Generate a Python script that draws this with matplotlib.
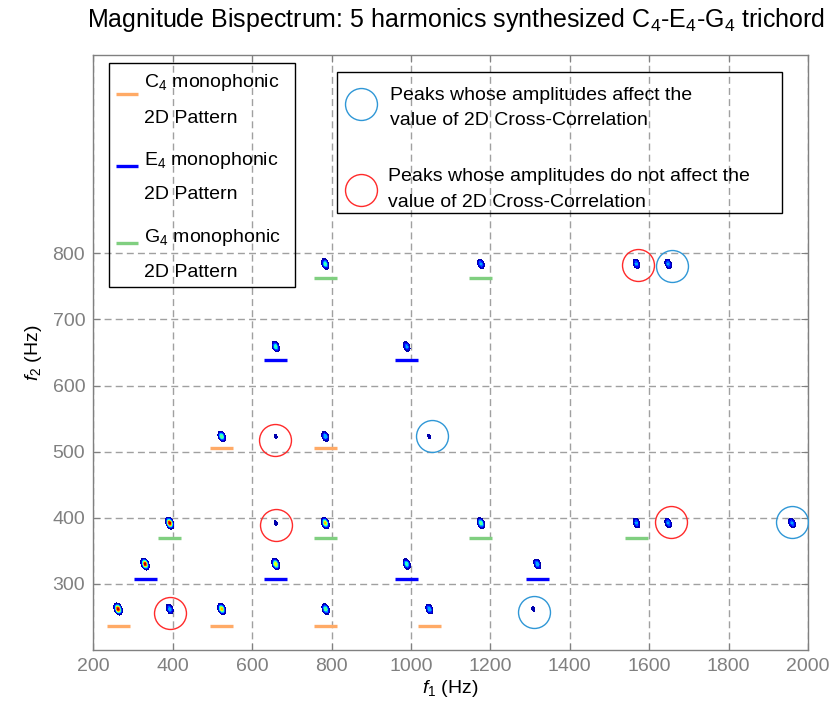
import numpy as np
import matplotlib
matplotlib.use('Agg')
import matplotlib.pyplot as plt
from matplotlib.patches import Rectangle

plt.rcParams['font.family'] = ['Liberation Sans', 'DejaVu Sans']
plt.rcParams['mathtext.fontset'] = 'custom'
plt.rcParams['mathtext.rm'] = 'Liberation Sans'
plt.rcParams['mathtext.it'] = 'Liberation Sans:italic'

# bispectrum peaks: f1, f2 (Hz) and relative magnitude
peak_f1 = [262, 392, 523, 785, 1046, 1308,
           330, 659, 989, 1318,
           392, 659, 784, 1176, 1568, 1648, 1960,
           523, 659, 784, 1046,
           659, 989,
           784, 1176, 1568, 1648]
peak_f2 = [262] * 6 + [330] * 4 + [392] * 7 + [523] * 4 + [659] * 2 + [784] * 4
peak_amp = [1.0, 0.32, 0.72, 0.5, 0.35, 0.06,
            0.95, 0.68, 0.45, 0.35,
            1.0, 0.06, 0.7, 0.5, 0.3, 0.3, 0.3,
            0.5, 0.06, 0.35, 0.06,
            0.45, 0.3,
            0.45, 0.3, 0.3, 0.3]

# monophonic 2D patterns: bar centre (f1) and level (f2)
c4_f1 = [262, 523, 785, 1046, 523, 785]
c4_f2 = [236, 236, 236, 236, 505, 505]
e4_f1 = [330, 659, 989, 1318, 659, 989]
e4_f2 = [308, 308, 308, 308, 639, 639]
g4_f1 = [392, 784, 1176, 1568, 784, 1176]
g4_f2 = [370, 370, 370, 370, 762, 762]

# circled peaks
blue_f1 = [1310, 1054, 1658, 1960]
blue_f2 = [257, 523, 781, 393]
red_f1 = [394, 660, 657, 1572, 1656]
red_f2 = [256, 389, 518, 783, 394]

c_orange = '#ffaa66'
c_blue = '#0000ff'
c_green = '#80cf80'
c_circ_blue = '#2f97d6'
c_circ_red = '#ff2a2a'
gray = '#808080'

fig = plt.figure(figsize=(8.37, 7.13), dpi=100)
ax = fig.add_axes([0.1117, 0.0884, 0.8536, 0.8345])

# peaks as filled contours
levels = np.linspace(0.04, 1.0, 13)
sx, sy, rho = 4.2, 3.6, -0.35
for f1, f2, a in zip(peak_f1, peak_f2, peak_amp):
    X, Y = np.meshgrid(np.linspace(f1 - 18, f1 + 18, 181),
                       np.linspace(f2 - 18, f2 + 18, 181))
    u = (X - f1) / sx
    v = (Y - f2) / sy
    Z = a * np.exp(-(u * u - 2 * rho * u * v + v * v) / (2 * (1 - rho ** 2)))
    ax.contourf(X, Y, Z, levels=levels, cmap='jet', vmin=0.04, vmax=1.0, zorder=2)

half = 29
for f1s, f2s, col in [(c4_f1, c4_f2, c_orange), (e4_f1, e4_f2, c_blue), (g4_f1, g4_f2, c_green)]:
    f1s = np.array(f1s)
    ax.hlines(f2s, f1s - half, f1s + half, colors=col, lw=2.4, zorder=3)

ax.plot(blue_f1, blue_f2, 'o', ms=23, mfc='none', mec=c_circ_blue, mew=1.0, ls='none', zorder=4)
ax.plot(red_f1, red_f2, 'o', ms=23, mfc='none', mec=c_circ_red, mew=1.0, ls='none', zorder=4)

ax.set_xlim(200, 2000)
ax.set_ylim(200, 1100)
ax.set_xticks(np.arange(200, 2001, 200))
ax.set_yticks(np.arange(300, 801, 100))
ax.set_axisbelow(True)
ax.grid(True, color='#a0a0a0', lw=1.0, ls=(0, (5, 3)))
ax.tick_params(direction='in', length=5, color=gray, labelcolor=gray,
               labelsize=14, top=True, right=True, pad=6)
for s in ax.spines.values():
    s.set_color(gray)
    s.set_linewidth(1.0)

ax.set_xlabel(r'$\mathit{f_1}$ (Hz)', fontsize=14, labelpad=2)
ax.set_ylabel(r'$\mathit{f_2}$ (Hz)', fontsize=14, labelpad=6)

fig.text(456 / 837, 1 - 27 / 713,
         r'Magnitude Bispectrum: 5 harmonics synthesized C$_4$-E$_4$-G$_4$ trichord',
         ha='center', va='baseline', fontsize=18)


def axf(px, py):
    return (px - 93.5) / 714.5, (650 - py) / 595


# legend 1 (pattern bars)
x0, y0 = axf(109, 287)
x1, y1 = axf(295, 63)
ax.add_patch(Rectangle((x0, y0), x1 - x0, y1 - y0, transform=ax.transAxes,
                       fill=False, ec='black', lw=1.0, zorder=5, clip_on=False))
entries = [('C', c_orange, 94, 87, 123), ('E', c_blue, 166, 165, 199), ('G', c_green, 243, 242, 277)]
for note, col, hy, b1, b2 in entries:
    ha_, hy_ = axf(116, hy)
    hb_, _ = axf(138, hy)
    ax.plot([ha_, hb_], [hy_, hy_], color=col, lw=2.4, transform=ax.transAxes,
            clip_on=False, zorder=6, solid_capstyle='butt')
    tx, ty1 = axf(144, b1)
    _, ty2 = axf(144, b2)
    ax.text(tx, ty1, note + r'$_4$ monophonic', transform=ax.transAxes,
            fontsize=14, va='baseline', ha='left', zorder=6)
    ax.text(tx, ty2, '2D Pattern', transform=ax.transAxes,
            fontsize=14, va='baseline', ha='left', zorder=6)

# legend 2 (circles)
x0, y0 = axf(337, 213)
x1, y1 = axf(782, 72)
ax.add_patch(Rectangle((x0, y0), x1 - x0, y1 - y0, transform=ax.transAxes,
                       fill=False, ec='black', lw=1.0, zorder=5, clip_on=False))
circ_entries = [(c_circ_blue, 104, 390, 100, 125, 'Peaks whose amplitudes affect the'),
                (c_circ_red, 190, 388, 181, 207, 'Peaks whose amplitudes do not affect the')]
for col, cy, tx_px, b1, b2, line1 in circ_entries:
    cx_, cy_ = axf(361, cy)
    ax.plot([cx_], [cy_], 'o', ms=23, mfc='none', mec=col, mew=1.0,
            transform=ax.transAxes, clip_on=False, zorder=6)
    tx, ty1 = axf(tx_px, b1)
    _, ty2 = axf(tx_px, b2)
    ax.text(tx, ty1, line1, transform=ax.transAxes, fontsize=14,
            va='baseline', ha='left', zorder=6)
    ax.text(tx, ty2, 'value of 2D Cross-Correlation', transform=ax.transAxes,
            fontsize=14, va='baseline', ha='left', zorder=6)

fig.savefig('out.png', dpi=100)
